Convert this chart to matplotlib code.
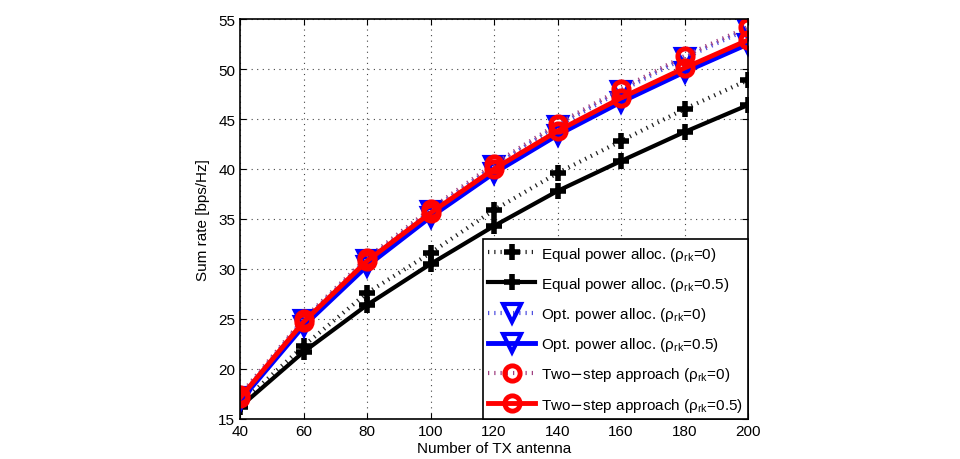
import numpy as np
import matplotlib
matplotlib.use("Agg")
import matplotlib.pyplot as plt

plt.rcParams['font.family'] = ['Liberation Sans', 'DejaVu Sans']

n_tx = [40, 60, 80, 100, 120, 140, 160, 180, 200]
equal_0 = [16.5, 22.3, 27.6, 31.6, 35.9, 39.6, 42.8, 46.0, 48.9]
equal_05 = [16.2, 21.7, 26.4, 30.5, 34.3, 37.8, 40.8, 43.7, 46.4]
opt_0 = [17.2, 24.9, 30.9, 35.8, 40.3, 44.3, 47.8, 51.1, 54.0]
opt_05 = [16.8, 24.3, 30.3, 35.2, 39.6, 43.4, 46.7, 49.7, 52.5]
two_0 = [17.4, 25.0, 31.1, 36.0, 40.5, 44.5, 48.0, 51.3, 54.2]
two_05 = [17.1, 24.7, 30.8, 35.6, 40.0, 43.8, 47.1, 50.1, 52.9]

fig = plt.figure(figsize=(9.6, 4.6), dpi=100)
ax = fig.add_axes([0.25, 0.087, 0.5292, 0.8695])

dot = (0, (0.3, 1.2))
ax.plot(n_tx, equal_0, color='#222222', ls=dot, lw=3, marker='+', ms=11, mec='k', mew=4,
        label=r'Equal power alloc. ($\mathregular{\rho_{rk}}$=0)')
ax.plot(n_tx, equal_05, color='k', ls='-', lw=3, marker='+', ms=11, mec='k', mew=4,
        label=r'Equal power alloc. ($\mathregular{\rho_{rk}}$=0.5)')
ax.plot(n_tx, opt_0, color='#5050e0', ls=dot, lw=3, marker='v', ms=13, mec='b', mfc='none', mew=3,
        label=r'Opt. power alloc. ($\mathregular{\rho_{rk}}$=0)')
ax.plot(n_tx, opt_05, color='b', ls='-', lw=3.5, marker='v', ms=13, mec='b', mfc='none', mew=3,
        label=r'Opt. power alloc. ($\mathregular{\rho_{rk}}$=0.5)')
ax.plot(n_tx, two_0, color='#a04080', ls=dot, lw=3, marker='o', ms=11, mec='r', mfc='none', mew=3.5,
        label=r'Two$-$step approach ($\mathregular{\rho_{rk}}$=0)')
ax.plot(n_tx, two_05, color='r', ls='-', lw=3.5, marker='o', ms=11, mec='r', mfc='none', mew=3.5,
        label=r'Two$-$step approach ($\mathregular{\rho_{rk}}$=0.5)')

ax.set_xlim(40, 200)
ax.set_ylim(15, 55)
ax.set_xticks(n_tx)
ax.set_yticks(np.arange(15, 56, 5))
ax.tick_params(direction='in', labelsize=11, length=4, top=True, right=True)
ax.grid(True, ls=(0, (1, 4)), color='#444444', lw=0.8)
for s in ax.spines.values():
    s.set_linewidth(1.2)
ax.set_xlabel('Number of TX antenna', fontsize=11, labelpad=2)
ax.set_ylabel('Sum rate [bps/Hz]', fontsize=11, labelpad=6)

leg = ax.legend(loc='lower right', fontsize=11, handlelength=3.1, frameon=True, fancybox=False,
                edgecolor='k', borderaxespad=0, labelspacing=0.8, borderpad=0.35,
                handletextpad=0.35, framealpha=1)
leg.get_frame().set_linewidth(1.2)

fig.savefig('out.png', dpi=100)
